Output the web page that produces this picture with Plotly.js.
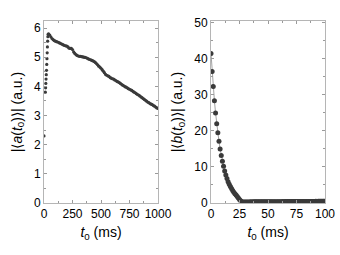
<!DOCTYPE html>
<html><head><meta charset="utf-8">
<script src="https://cdn.plot.ly/plotly-3.0.1.min.js"></script>
<style>html,body{margin:0;padding:0;background:#fff}#c{width:340px;height:255px}</style>
</head><body><div id="c"></div>
<script>
// Left panel: |<a(t0)>| vs t0 (ms)
const tA = [0,12,14,16,18,20,22,24,26,28,30,32,34,36,
 40,50,60,70,80,90,100,110,120,130,140,150,160,170,180,190,200,210,220,230,240,250,260,270,280,290,
 300,310,320,330,340,350,360,370,380,390,400,410,420,430,440,450,460,470,480,490,
 500,510,520,530,540,550,560,570,580,590,600,610,620,630,640,650,660,670,680,690,
 700,710,720,730,740,750,760,770,780,790,800,810,820,830,840,850,860,870,880,890,
 900,910,920,930,940,950,960,970,980,990,1000];
const aVals = [2.3,3.8,3.95,4.1,4.25,4.4,4.55,4.75,4.95,5.15,5.35,5.55,5.7,5.78,
 5.80,5.76,5.70,5.64,5.60,5.57,5.55,5.53,5.52,5.50,5.48,5.46,5.44,5.42,5.40,5.39,5.38,5.35,5.31,5.30,5.30,5.26,5.18,5.13,5.09,5.06,
 5.04,5.03,5.03,5.02,5.01,5.00,4.99,4.98,4.96,4.94,4.92,4.91,4.89,4.87,4.85,4.82,4.78,4.74,4.69,4.66,
 4.62,4.57,4.52,4.47,4.41,4.38,4.36,4.34,4.30,4.28,4.26,4.25,4.22,4.20,4.17,4.15,4.13,4.10,4.07,4.04,
 4.02,3.99,3.97,3.95,3.92,3.90,3.88,3.86,3.83,3.80,3.78,3.75,3.72,3.70,3.67,3.64,3.61,3.58,3.55,3.52,
 3.49,3.46,3.44,3.41,3.39,3.37,3.34,3.32,3.29,3.26,3.24];

// Right panel: |<b(t0)>| vs t0 (ms)
const tB = [0,1,2,3,4,5,6,7,8,9,10,11,12,13,14,15,16,17,18,19,20,21,22,23,24,25,26,27,28,29,
 30,31,32,33,34,35,36,37,38,39,40,41,42,43,44,45,46,47,48,49,50,51,52,53,54,55,56,57,58,59,
 60,61,62,63,64,65,66,67,68,69,70,71,72,73,74,75,76,77,78,79,80,81,82,83,84,85,86,87,88,89,
 90,91,92,93,94,95,96,97,98,99,100];
const bVals = [41.5,36.5,32.3,28.4,25.0,22.0,19.5,17.1,15.0,13.2,11.6,10.2,8.9,7.8,6.8,5.9,5.2,4.6,4.0,3.5,3.0,2.6,2.2,1.8,1.4,1.0,0.6,0.35,0.25,0.28,
 0.30,0.30,0.31,0.30,0.31,0.32,0.31,0.32,0.32,0.33,0.32,0.33,0.33,0.34,0.33,0.34,0.34,0.35,0.34,0.35,0.35,0.36,0.35,0.36,0.36,0.37,0.36,0.37,0.37,0.38,
 0.37,0.38,0.38,0.39,0.38,0.39,0.39,0.40,0.39,0.40,0.40,0.41,0.40,0.41,0.41,0.42,0.41,0.42,0.42,0.43,0.42,0.43,0.43,0.44,0.43,0.44,0.44,0.45,0.44,0.45,
 0.45,0.45,0.46,0.45,0.46,0.46,0.47,0.46,0.47,0.47,0.48];

const ink = '#3a3a3a';
const traces = [
  {x: tA, y: aVals, xaxis: 'x', yaxis: 'y', type: 'scatter', mode: 'markers',
   marker: {size: 3.2, color: ink}, hoverinfo: 'skip'},
  {x: tB, y: bVals, xaxis: 'x2', yaxis: 'y2', type: 'scatter', mode: 'lines+markers',
   line: {color: '#8a8a8a', width: 0.8}, marker: {size: 5, color: ink}, hoverinfo: 'skip'}
];

const font = {family: 'Liberation Sans, Arial, sans-serif', size: 12, color: '#000'};
const titleFont = {family: 'Liberation Sans, Arial, sans-serif', size: 14, color: '#000'};
function ax(extra) {
  return Object.assign({
    showline: true, linecolor: '#b5b5b5', linewidth: 1, mirror: 'allticks',
    ticks: 'inside', ticklen: 3, tickcolor: '#9a9a9a', tickwidth: 1,
    showgrid: false, zeroline: false, tickfont: font, automargin: false
  }, extra);
}
const layout = {
  width: 340, height: 255,
  margin: {l: 0, r: 0, t: 21, b: 52},
  paper_bgcolor: '#fff', plot_bgcolor: '#fff', showlegend: false,
  xaxis: ax({domain: [44/340, 158/340], range: [0, 1000], tickvals: [0,250,500,750,1000],
    minor: {dtick: 125, ticks: 'inside', ticklen: 2, tickcolor: '#9a9a9a'},
    title: {text: '<i>t</i><sub>0</sub> (ms)', font: titleFont, standoff: 6}, anchor: 'y'}),
  yaxis: ax({domain: [0, 1], range: [0, 6.24], tickvals: [0,1,2,3,4,5,6],
    minor: {dtick: 0.5, ticks: 'inside', ticklen: 2, tickcolor: '#9a9a9a'},
    title: {text: '|⟨<i>a</i>(<i>t</i><sub>0</sub>)⟩| (a.u.)', font: titleFont, standoff: 8}, anchor: 'x'}),
  xaxis2: ax({domain: [211/340, 325/340], range: [0, 100], tickvals: [0,25,50,75,100],
    minor: {dtick: 12.5, ticks: 'inside', ticklen: 2, tickcolor: '#9a9a9a'},
    title: {text: '<i>t</i><sub>0</sub> (ms)', font: titleFont, standoff: 6}, anchor: 'y2'}),
  yaxis2: ax({domain: [0, 1], range: [0, 50.5], tickvals: [0,10,20,30,40,50],
    minor: {dtick: 5, ticks: 'inside', ticklen: 2, tickcolor: '#9a9a9a'},
    title: {text: '|⟨<i>b</i>(<i>t</i><sub>0</sub>)⟩| (a.u.)', font: titleFont, standoff: 8}, anchor: 'x2'})
};
Plotly.newPlot('c', traces, layout, {staticPlot: true, displayModeBar: false});
</script></body></html>
